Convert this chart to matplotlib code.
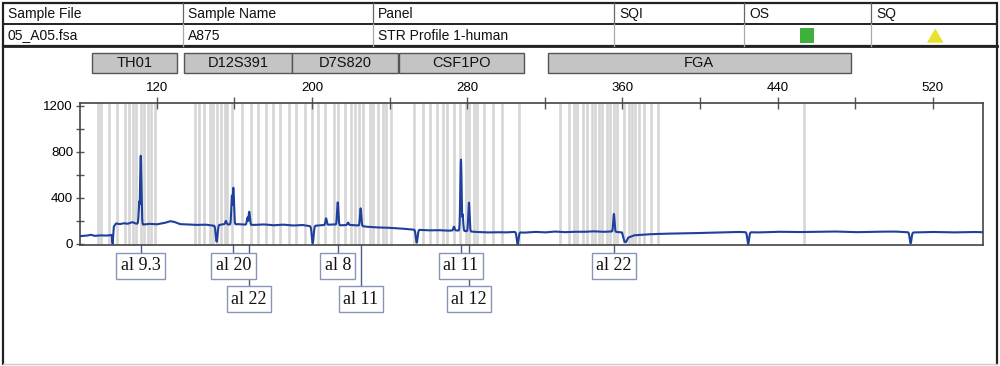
import numpy as np
import matplotlib
matplotlib.use("Agg")
import matplotlib.pyplot as plt
from matplotlib.patches import Rectangle, Polygon
import matplotlib.transforms as mtransforms

# ---------------- data ----------------
header_cols = ["Sample File", "Sample Name", "Panel", "SQI", "OS", "SQ"]
header_vals = ["05_A05.fsa", "A875", "STR Profile 1-human", "", "", ""]

markers = ["TH01", "D12S391", "D7S820", "CSF1PO", "FGA"]
marker_start = [86.5, 134.3, 189.8, 245.1, 321.4]
marker_end = [130.3, 189.8, 244.2, 309.5, 477.7]

x_major = [120, 200, 280, 360, 440, 520]
x_minor = [160, 240, 320, 400, 480]
y_major = [0, 400, 800, 1200]
y_minor = [200, 600, 1000]

bins_bp = [89.6, 91.1, 95.2, 99.4, 103.5, 105.5, 107.6, 109.1, 111.7, 113.3, 115.3, 116.9, 118.9,
           139.5, 141.6, 144.2, 147.3, 148.8, 150.9, 152.9, 155.0, 156.5, 158.6, 164.2, 168.4,
           172.0, 176.1, 180.2, 183.8, 188.0, 191.6, 196.2, 199.8, 202.9, 207.0, 211.6, 213.2,
           216.8, 219.9, 222.4, 224.5, 226.1, 229.7, 231.7, 233.8, 236.4, 238.4, 240.5,
           252.8, 257.0, 261.1, 264.2, 267.3, 269.8, 273.4, 276.5, 279.6, 281.2, 283.7, 285.3,
           288.9, 293.5, 297.7, 306.9,
           328.0, 332.7, 335.2, 336.8, 339.9, 341.9, 344.5, 346.1, 348.1, 349.7, 352.2, 353.8,
           355.9, 357.4, 361.0, 363.6, 365.1, 366.7, 368.8, 371.3, 374.9, 378.5,
           453.7]

baseline_bp = [80.5, 84, 86, 88, 91, 94, 96.8, 97.3, 97.9, 99, 101, 103, 105, 107.5, 109, 113,
               116, 120, 124, 127, 129, 132, 136, 140, 145, 149, 152, 155, 158, 162, 165, 170,
               175, 180, 185, 190, 195, 199, 203, 207, 211, 215, 220, 224, 228, 232, 236, 240,
               245, 250, 253, 256, 260, 265, 270, 274, 279, 284, 290, 295, 300, 304, 309, 315,
               320, 325, 330, 335, 340, 345, 350, 354, 356.5, 358, 359.8, 361.0, 361.8, 363,
               366, 370, 375, 380, 390, 400, 410, 420, 430, 440, 450, 460, 470, 480, 490, 500,
               510, 520, 530, 540, 545.8]
baseline_rfu = [68, 72, 80, 70, 75, 72, 78, 0, 150, 178, 172, 180, 175, 190, 178, 168,
                175, 170, 182, 198, 192, 172, 170, 165, 168, 160, 165, 172, 168, 172, 168, 165,
                170, 162, 168, 160, 165, 155, 160, 165, 170, 162, 165, 160, 150, 145, 142, 140,
                135, 128, 125, 122, 118, 120, 115, 118, 112, 105, 100, 102, 100, 105, 98, 105,
                100, 108, 102, 106, 105, 110, 105, 108, 105, 103, 100, 20, 15, 55,
                75, 80, 85, 88, 92, 95, 100, 104, 100, 106, 103, 105, 108, 102, 106, 108,
                100, 104, 100, 104, 102]

peak_bp = [111.1, 111.8, 155.7, 158.8, 159.5, 166.8, 167.7, 207.3, 213.3, 218.6, 225.1,
           273.2, 276.8, 277.6, 280.9, 355.6]
peak_rfu = [370, 765, 200, 420, 488, 230, 280, 222, 361, 185, 309,
            150, 733, 260, 358, 260]

dip_bp = [150.9, 200.4, 254.0, 306.0, 424.8, 508.5]
dip_rfu = [20, 5, 11, 0, 0, 5]

allele_labels = ["al 9.3", "al 20", "al 22", "al 8", "al 11", "al 11", "al 12", "al 22"]
allele_bp = [111.8, 159.5, 167.7, 213.3, 225.1, 276.8, 280.9, 355.6]
allele_row = [0, 0, 1, 0, 1, 0, 1, 0]

# ---------------- figure ----------------
SANS = "Liberation Sans"
SERIF = "Liberation Serif"
W, H = 1000, 366
fig = plt.figure(figsize=(W / 100, H / 100), dpi=100)
fig.patch.set_facecolor("white")

ov = fig.add_axes([0, 0, 1, 1], zorder=-1)
ov.set_xlim(0, W)
ov.set_ylim(H, 0)
ov.axis("off")

ax = fig.add_axes([80 / W, 121 / H, 903 / W, 142 / H])
ax.set_xlim(80.5, 545.8)
ax.set_ylim(-9, 1223)

# header table
dark = "#222222"
ov.add_patch(Rectangle((3, 3), 994, 43, fill=False, ec=dark, lw=1.6))
ov.plot([3, 997], [24, 24], color=dark, lw=1.4)
ov.plot([3, 997], [46, 46], color=dark, lw=2.0)
col_x = [3, 183, 373, 614, 744, 871]
for cx in col_x[1:]:
    ov.plot([cx, cx], [3, 24], color="#666666", lw=0.9)
    ov.plot([cx, cx], [24, 46], color="#aaaaaa", lw=0.9)
for cx, name, val in zip(col_x, header_cols, header_vals):
    ov.text(cx + 5, 14, name, fontsize=10, family=SANS, va="center", ha="left", color="#111111")
    if val:
        ov.text(cx + 5, 35.5, val, fontsize=10, family=SANS, va="center", ha="left", color="#111111")
ov.add_patch(Rectangle((800, 27.5), 14, 15, color="#3fb13a", lw=0))
ov.add_patch(Polygon([(927, 42.7), (943.5, 42.7), (935.2, 28.5)], closed=True, color="#e8e22c", lw=0))

# panel border
ov.plot([3, 3], [46, 364], color=dark, lw=1.6)
ov.plot([997, 997], [46, 364], color=dark, lw=1.6)
ov.plot([3, 997], [364, 364], color="#cccccc", lw=1.0)

# blended: x in bp, y in pixels
bt = mtransforms.blended_transform_factory(ax.transData, ov.transData)

for name, s, e in zip(markers, marker_start, marker_end):
    ov.add_patch(Rectangle((s, 52.5), e - s, 20.5, transform=bt, fc="#c4c4c4", ec="#555555", lw=1.0))
    ov.text((s + e) / 2, 63, name, transform=bt, ha="center", va="center", fontsize=10.5,
            family=SANS, color="#111111")

# bins
for b in bins_bp:
    ax.axvline(b, color="#d6d6d6", lw=1.9, zorder=0)

# trace: baseline + peaks (upward) + dips (downward)
x = np.linspace(80.5, 545.8, 8000)
base = np.interp(x, baseline_bp, baseline_rfu)
up = np.zeros_like(x)
down = np.zeros_like(x)
for p, h in zip(peak_bp, peak_rfu):
    b0 = np.interp(p, baseline_bp, baseline_rfu)
    up = np.maximum(up, (h - b0) * np.exp(-0.5 * ((x - p) / 0.33) ** 2))
for p, h in zip(dip_bp, dip_rfu):
    b0 = np.interp(p, baseline_bp, baseline_rfu)
    down = np.minimum(down, (h - b0) * np.exp(-0.5 * ((x - p) / 0.45) ** 2))
y = base + up + down
ax.plot(x, y, color="#1f3f9c", lw=1.5, zorder=3)

# axes styling
for sp in ax.spines.values():
    sp.set_color("#444444")
    sp.set_linewidth(1.2)
ax.xaxis.tick_top()
ax.set_xticks(x_major)
ax.set_xticks(x_minor, minor=True)
ax.set_yticks(y_major)
ax.set_yticks(y_minor, minor=True)
ax.set_xticklabels([str(v) for v in x_major], family=SANS)
ax.set_yticklabels([str(v) for v in y_major], family=SANS)
ax.tick_params(axis="x", which="both", direction="inout", length=8, width=1, color="#555555",
               labelsize=9.5, pad=2.5, top=True, bottom=False)
ax.tick_params(axis="y", which="both", direction="inout", length=6, width=1, color="#555555",
               labelsize=9.5, pad=2)

# allele labels
row_y = [266, 299]
row_top = [253, 286]
for lab, p, r in zip(allele_labels, allele_bp, allele_row):
    ov.plot([p, p], [245, row_top[r]], transform=bt, color="#4d5a8c", lw=1.0, zorder=1)
    ov.text(p, row_y[r], lab, transform=bt, ha="center", va="center", fontsize=13,
            family=SERIF, color="#111111", zorder=3,
            bbox=dict(boxstyle="square,pad=0.25", fc="white", ec="#8a94b8", lw=1.0))

fig.savefig("out.png", dpi=100, facecolor="white")
